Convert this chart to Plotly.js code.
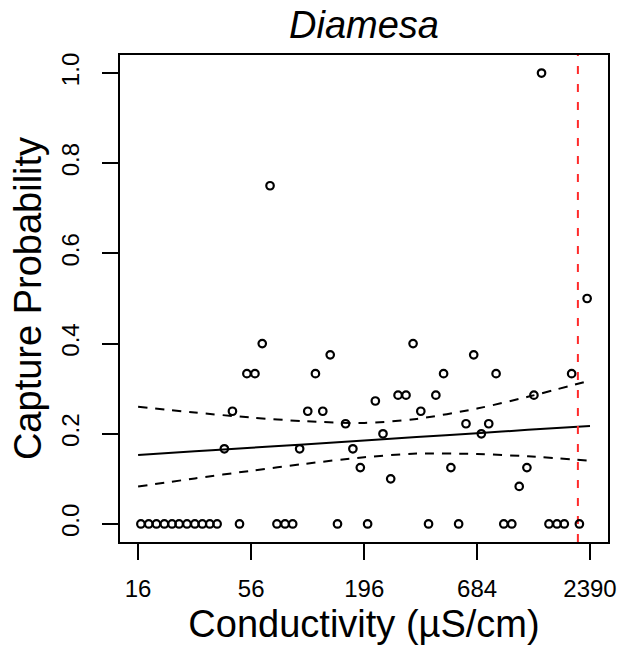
<!DOCTYPE html>
<html>
<head>
<meta charset="utf-8">
<script src="https://cdn.plot.ly/plotly-3.0.1.min.js"></script>
<style>html,body{margin:0;padding:0;background:#fff;}#chart{width:624px;height:653px;}</style>
</head>
<body>
<div id="chart"></div>
<script>
// Observed capture probabilities vs conductivity (µS/cm)
const conductivity = [16.5, 18.0, 19.6, 21.4, 23.3, 25.2, 27.5, 30.0, 32.6, 35.4, 38.4, 41.6, 45.5, 49.2, 53.4, 58.4, 63.3, 69.0, 74.5, 81.5,
  88.7, 95.8, 104.8, 114.1, 123.8, 134.4, 145.7, 159.3, 172.8, 187.6, 203.4, 221.6, 241.2, 262.7, 285.0, 311.3, 336.6, 366.7, 399.5, 433.2,
  472.0, 511.8, 557.6, 605.0, 659.0, 717.1, 778.4, 844.4, 919.6, 1005, 1091, 1188, 1284, 1397, 1517, 1658, 1798, 1950, 2125, 2315];
const captureProb = [0, 0, 0, 0, 0, 0, 0, 0, 0, 0, 0, 0.1667, 0.25, 0, 0.3333, 0.3333, 0.4, 0.75, 0, 0,
  0, 0.1667, 0.25, 0.3333, 0.25, 0.375, 0, 0.2222, 0.1667, 0.125, 0, 0.2727, 0.2, 0.1, 0.2857, 0.2857, 0.4, 0.25, 0, 0.2857,
  0.3333, 0.125, 0, 0.2222, 0.375, 0.2, 0.2222, 0.3333, 0, 0, 0.0833, 0.125, 0.2857, 1.0, 0, 0, 0, 0.3333, 0, 0.5];

// Fitted model and confidence band
const fitX = [16, 30, 56, 100, 196, 350, 684, 1200, 2390];
const fitMean = [0.153, 0.161, 0.169, 0.176, 0.185, 0.193, 0.201, 0.209, 0.217];
const fitUpper = [0.260, 0.247, 0.236, 0.228, 0.224, 0.233, 0.256, 0.282, 0.318];
const fitLower = [0.083, 0.101, 0.118, 0.133, 0.148, 0.156, 0.155, 0.150, 0.140];

// Threshold (red dashed line)
const threshold = 2090;

// Axis ticks
const xTickVals = [16, 56, 196, 684, 2390];
const xTickText = ['16', '56', '196', '684', '2390'];
const yTickVals = [0, 0.2, 0.4, 0.6, 0.8, 1.0];
const yTickText = ['0.0', '0.2', '0.4', '0.6', '0.8', '1.0'];

const FONT = 'Liberation Sans, Arial, Helvetica, sans-serif';
const yRange = [-0.04, 1.04];

const traces = [
  {x: fitX, y: fitUpper, mode: 'lines', line: {color: 'black', width: 2, dash: '9px,8px', shape: 'spline', smoothing: 0.8}, hoverinfo: 'skip'},
  {x: fitX, y: fitLower, mode: 'lines', line: {color: 'black', width: 2, dash: '9px,8px', shape: 'spline', smoothing: 0.8}, hoverinfo: 'skip'},
  {x: fitX, y: fitMean, mode: 'lines', line: {color: 'black', width: 2, shape: 'spline'}, hoverinfo: 'skip'},
  {x: [threshold, threshold], y: yRange, mode: 'lines', line: {color: '#ff2a2a', width: 2, dash: '8px,10px'}, hoverinfo: 'skip'},
  {x: conductivity, y: captureProb, mode: 'markers', marker: {symbol: 'circle-open', size: 7.5, color: 'black', line: {width: 2.2, color: 'black'}}}
];

const layout = {
  width: 624, height: 653,
  margin: {l: 120, r: 16, t: 55, b: 111},
  paper_bgcolor: 'white', plot_bgcolor: 'white',
  showlegend: false,
  font: {family: FONT, color: 'black'},
  title: {text: 'Diamesa', font: {family: FONT, size: 38, style: 'italic', color: 'black'},
          x: 0.5, xref: 'paper', y: 1 - 25 / 653, yref: 'container', yanchor: 'middle'},
  xaxis: {
    type: 'log', range: [1.117, 3.465], autorange: false,
    tickvals: xTickVals, ticktext: xTickText,
    ticks: 'outside', ticklen: 16, tickwidth: 2, tickcolor: 'black',
    ticklabelstandoff: 8,
    tickfont: {family: FONT, size: 24, color: 'black'},
    showline: true, mirror: true, linewidth: 2, linecolor: 'black',
    showgrid: false, zeroline: false,
    title: {text: 'Conductivity (µS/cm)', font: {family: FONT, size: 38, color: 'black'}, standoff: 10}
  },
  yaxis: {
    range: yRange, autorange: false,
    tickvals: yTickVals, ticktext: yTickText, tickangle: -90,
    ticks: 'outside', ticklen: 16, tickwidth: 2, tickcolor: 'black',
    ticklabelstandoff: 13,
    tickfont: {family: FONT, size: 24, color: 'black'},
    showline: true, mirror: true, linewidth: 2, linecolor: 'black',
    showgrid: false, zeroline: false,
    title: {text: 'Capture Probability', font: {family: FONT, size: 38, color: 'black'}, standoff: 4}
  }
};

Plotly.newPlot('chart', traces, layout, {staticPlot: true, displayModeBar: false});
</script>
</body>
</html>
